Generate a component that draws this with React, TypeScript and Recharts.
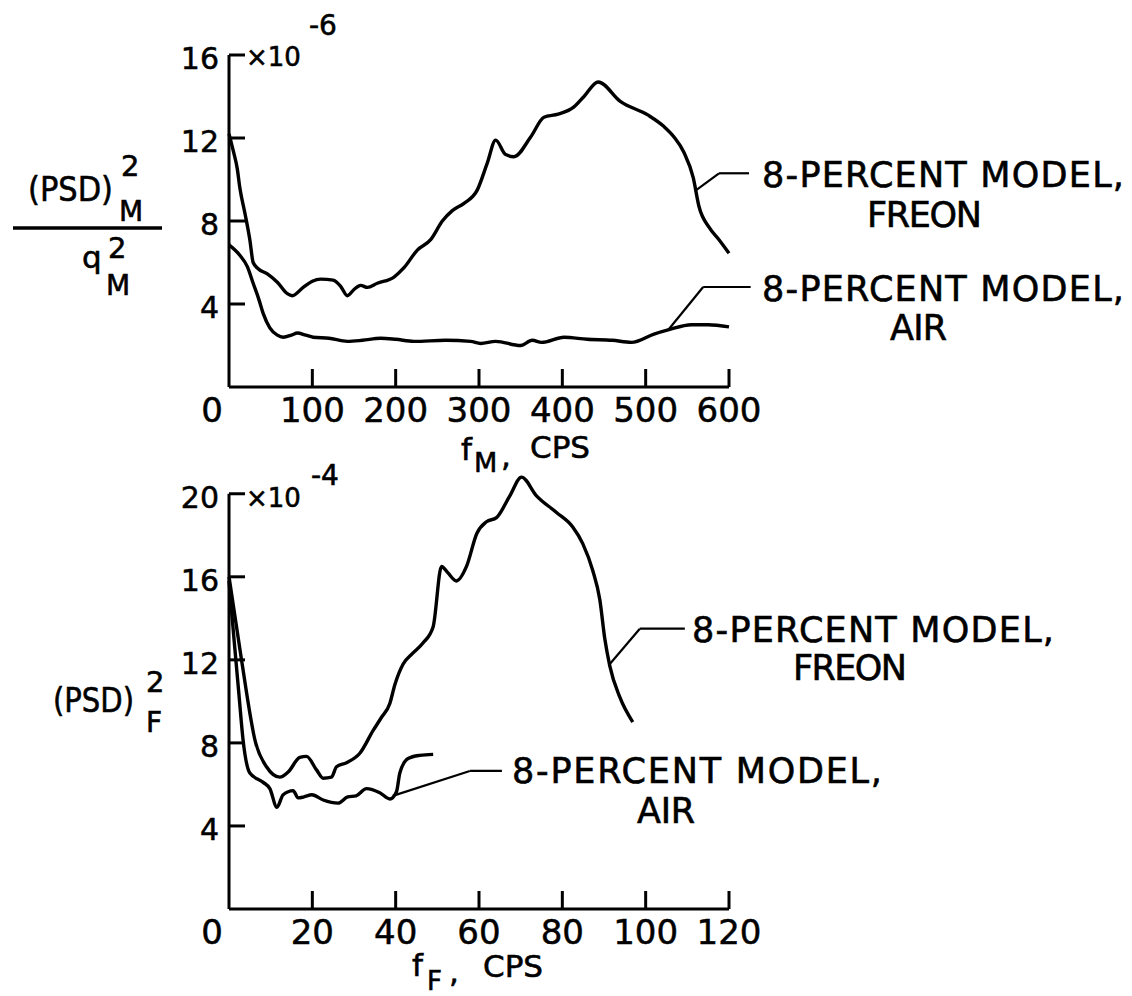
import React from 'react';
import { LineChart, Line, XAxis, YAxis, ReferenceLine } from 'recharts';

const FONT = '"DejaVu Sans", sans-serif';

// ---------- Top panel (8-percent model, f_M) ----------
const topTicksX = [0, 100, 200, 300, 400, 500, 600];
const topTicksY = [4, 8, 12, 16];
const topFreonF = [0, 5, 10, 13, 19, 25, 29, 35, 46, 58, 70, 76, 89, 100, 110, 125, 134, 142, 150, 158, 166, 178, 198, 210, 226, 242, 256, 268, 282, 298, 310, 320, 332, 342, 362, 378, 395, 414, 426, 443, 470, 503, 522, 534, 546, 557, 564, 576, 588, 600];
const topFreonV = [12.2, 11.4, 10.5, 9.6, 8.4, 7.1, 6.0, 5.7, 5.45, 5.05, 4.5, 4.4, 4.8, 5.1, 5.2, 5.15, 4.85, 4.4, 4.7, 4.9, 4.8, 5.0, 5.3, 5.75, 6.6, 7.1, 8.0, 8.5, 8.85, 9.5, 10.8, 11.9, 11.2, 11.1, 12.05, 13.0, 13.15, 13.5, 14.0, 14.7, 13.75, 13.1, 12.55, 12.05, 11.3, 10.1, 8.7, 7.7, 7.1, 6.45];
const topAirF = [0, 13, 22, 29, 36, 41, 49, 58, 65, 75, 82, 92, 101, 120, 142, 160, 182, 200, 222, 260, 290, 302, 320, 350, 364, 375, 402, 430, 460, 483, 510, 527, 555, 575, 600];
const topAirV = [6.85, 6.35, 5.8, 5.0, 4.2, 3.55, 2.85, 2.5, 2.4, 2.5, 2.6, 2.5, 2.4, 2.35, 2.2, 2.25, 2.35, 2.3, 2.2, 2.25, 2.2, 2.1, 2.2, 2.0, 2.25, 2.15, 2.4, 2.3, 2.25, 2.15, 2.55, 2.75, 3.0, 3.0, 2.9];
const topFreonLeader = [[561, 9.5], [588, 10.3], [624, 10.3]];
const topAirLeader = [[527, 2.75], [569, 4.82], [626, 4.82]];

// ---------- Bottom panel (f_F) ----------
const botTicksX = [0, 20, 40, 60, 80, 100, 120];
const botTicksY = [4, 8, 12, 16, 20];
const botFreonF = [0, 3, 6.4, 9, 12.2, 14.2, 17, 18.6, 21, 22.6, 24.6, 25.8, 28.2, 31.4, 34.6, 36.5, 38.6, 39.8, 41.8, 44, 46.5, 49, 51, 52.5, 54.6, 57, 59.5, 61.8, 64.2, 67.4, 70.2, 73.8, 78.6, 82.5, 84.9, 87.3, 89, 90.2, 91.4, 93.8, 96.9];
const botFreonV = [16, 12, 8, 6.85, 6.35, 6.6, 7.3, 7.35, 6.7, 6.3, 6.35, 6.85, 7.05, 7.5, 8.6, 9.2, 9.9, 10.8, 11.8, 12.3, 12.8, 13.6, 16.5, 16.2, 15.8, 16.5, 18.1, 18.65, 18.85, 19.9, 20.8, 19.9, 19.1, 18.4, 17.6, 16.3, 14.9, 13.0, 11.7, 10.2, 9.0];
const botAirF = [0, 1.2, 2.4, 3.4, 5, 8.2, 9.8, 11.5, 13, 15.4, 16.6, 18, 19.9, 22.6, 26.2, 28.5, 30.5, 33, 36.2, 38.6, 40.2, 41, 43, 45.8, 49];
const botAirV = [15.8, 13, 10.3, 8.1, 6.55, 6.1, 5.8, 4.9, 5.5, 5.7, 5.35, 5.4, 5.5, 5.25, 5.1, 5.4, 5.45, 5.8, 5.6, 5.3, 5.65, 6.55, 7.25, 7.4, 7.45];
const botFreonLeader = [[91.4, 11.8], [98.6, 13.5], [109.4, 13.5]];
const botAirLeader = [[39.3, 5.45], [57.8, 6.65], [65.5, 6.65]];

const zip = (fs: number[], vs: number[]) => fs.map((f, i) => ({ f, v: vs[i] }));

const XTick = (props: any) => {
  const { x, y, payload } = props;
  const v = payload.value;
  return (
    <g>
      {v !== 0 && <line x1={x} y1={y} x2={x} y2={y - 18} stroke="#000" strokeWidth={3} />}
      <text x={v === 0 ? x - 17 : x} y={y + 35} textAnchor="middle" fontSize={34} fontFamily={FONT} fill="#000" stroke="#000" strokeWidth={0.5}>
        {v}
      </text>
    </g>
  );
};

const YTick = (props: any) => {
  const { x, y, payload } = props;
  return (
    <g>
      <line x1={x} y1={y} x2={x + 16} y2={y} stroke="#000" strokeWidth={3} />
      <text x={x - 10} y={y + 14} textAnchor="end" fontSize={30} fontFamily={FONT} fill="#000" stroke="#000" strokeWidth={0.5}>
        {payload.value}
      </text>
    </g>
  );
};

const segLines = (pts: number[][], key: string, width: number) =>
  pts.slice(0, -1).map((p, i) => (
    <ReferenceLine
      key={key + i}
      segment={[{ x: p[0], y: p[1] }, { x: pts[i + 1][0], y: pts[i + 1][1] }]}
      stroke="#000"
      strokeWidth={width}
      ifOverflow="visible"
    />
  ));

const W = 1132;
const H = 996;

const Panel = (props: any) => {
  const { top, bottom, xDomain, yDomain, yAxisTop, xTicks, yTicks, freon, air, leaders } = props;
  return (
    <div style={{ position: 'absolute', left: 0, top: 0 }}>
      <LineChart width={W} height={H} margin={{ top, bottom, left: 169, right: W - 729 }}>
        <XAxis
          type="number"
          dataKey="f"
          domain={xDomain}
          ticks={xTicks}
          interval={0}
          height={40}
          tickSize={0}
          tickMargin={0}
          tickLine={false}
          axisLine={{ stroke: '#000', strokeWidth: 3 }}
          tick={(p: any) => <XTick {...p} />}
        />
        <YAxis
          type="number"
          domain={yDomain}
          ticks={yTicks}
          interval={0}
          width={60}
          tickSize={0}
          tickMargin={0}
          tickLine={false}
          axisLine={false}
          tick={(p: any) => <YTick {...p} />}
        />
        {segLines([[0, 0], [0, yAxisTop]], 'axis', 3)}
        <Line data={freon} dataKey="v" type="monotone" stroke="#000" strokeWidth={3.4} dot={false} isAnimationActive={false} strokeLinejoin="round" />
        <Line data={air} dataKey="v" type="monotone" stroke="#000" strokeWidth={3.4} dot={false} isAnimationActive={false} strokeLinejoin="round" />
        {leaders}
      </LineChart>
    </div>
  );
};

const T = (p: any) => <text fontFamily={FONT} fill="#000" stroke="#000" strokeWidth={0.6} {...p} />;

export default function App() {
  return (
    <div style={{ position: 'absolute', left: 0, top: 0, width: W, height: H, background: '#fff', overflow: 'hidden' }}>
      <Panel
        top={55}
        bottom={H - 387 - 40}
        xDomain={[0, 600]}
        yDomain={[0, 16]}
        yAxisTop={16}
        xTicks={topTicksX}
        yTicks={topTicksY}
        freon={zip(topFreonF, topFreonV)}
        air={zip(topAirF, topAirV)}
        leaders={[...segLines(topFreonLeader, 'tf', 2.2), ...segLines(topAirLeader, 'ta', 2.2)]}
      />
      <Panel
        top={473}
        bottom={H - 909 - 40}
        xDomain={[0, 120]}
        yDomain={[0, 21]}
        yAxisTop={20}
        xTicks={botTicksX}
        yTicks={botTicksY}
        freon={zip(botFreonF, botFreonV)}
        air={zip(botAirF, botAirV)}
        leaders={[...segLines(botFreonLeader, 'bf', 2.2), ...segLines(botAirLeader, 'ba', 2.2)]}
      />
      <svg width={W} height={H} style={{ position: 'absolute', left: 0, top: 0, pointerEvents: 'none' }}>
        {/* top y label */}
        <T x={28} y={201} fontSize={34} textLength={85} lengthAdjust="spacingAndGlyphs">(PSD)</T>
        <T x={121} y={176} fontSize={29}>2</T>
        <T x={119} y={221} fontSize={28}>M</T>
        <line x1={13} y1={228} x2={162} y2={228} stroke="#000" strokeWidth={3.5} />
        <T x={82} y={268} fontSize={31}>q</T>
        <T x={108} y={258} fontSize={29}>2</T>
        <T x={106} y={295} fontSize={28}>M</T>
        <T x={246} y={66} fontSize={26}>×10</T>
        <T x={309} y={35} fontSize={28}>-6</T>
        {/* top x label */}
        <T x={461} y={460} fontSize={31}>f</T>
        <T x={474} y={472} fontSize={27}>M</T>
        <T x={501} y={466} fontSize={31}>,</T>
        <T x={530} y={458} fontSize={31}>CPS</T>
        {/* top annotations */}
        <T x={762} y={187} fontSize={35} textLength={362}>8-PERCENT MODEL,</T>
        <T x={867} y={227} fontSize={35} textLength={115}>FREON</T>
        <T x={762} y={301} fontSize={35} textLength={362}>8-PERCENT MODEL,</T>
        <T x={890} y={340} fontSize={35} textLength={57}>AIR</T>

        {/* bottom y label */}
        <T x={53} y={712} fontSize={34} textLength={81} lengthAdjust="spacingAndGlyphs">(PSD)</T>
        <T x={146} y={692} fontSize={29}>2</T>
        <T x={146} y={732} fontSize={28}>F</T>
        <T x={246} y={507} fontSize={26}>×10</T>
        <T x={311} y={485} fontSize={28}>-4</T>
        {/* bottom x label */}
        <T x={412} y={976} fontSize={31}>f</T>
        <T x={427} y={990} fontSize={26}>F</T>
        <T x={449} y={982} fontSize={31}>,</T>
        <T x={483} y={977} fontSize={31}>CPS</T>
        {/* bottom annotations */}
        <T x={692} y={642} fontSize={35} textLength={362}>8-PERCENT MODEL,</T>
        <T x={793} y={680} fontSize={35} textLength={114}>FREON</T>
        <T x={512} y={783} fontSize={35} textLength={370}>8-PERCENT MODEL,</T>
        <T x={637} y={823} fontSize={35} textLength={58}>AIR</T>
      </svg>
    </div>
  );
}
